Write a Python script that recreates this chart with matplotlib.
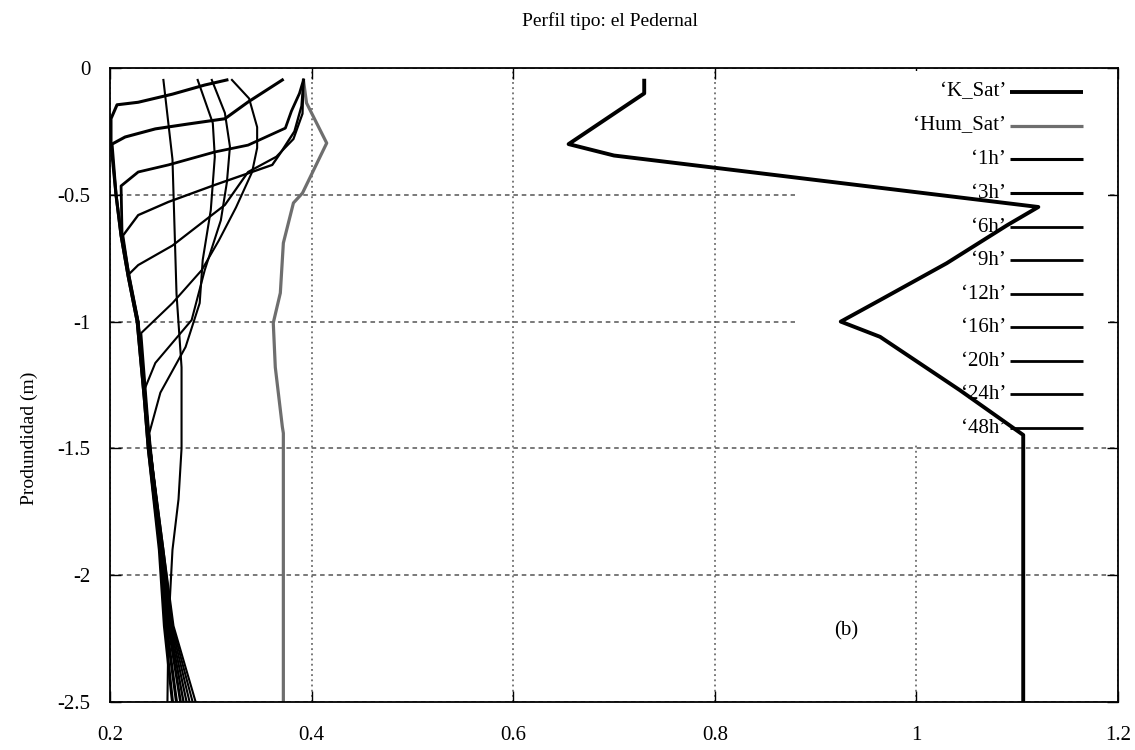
import matplotlib.pyplot as plt
from matplotlib.patches import Rectangle

plt.rcParams['font.family'] = ['Liberation Serif', 'DejaVu Serif']

# perfil de conductividad saturada y humedad de saturacion
ksat_depth = [-0.05, -0.10, -0.30, -0.345, -0.548, -0.62, -0.77, -0.915, -1.0, -1.06, -1.27, -1.447, -2.5]
ksat_value = [0.73, 0.73, 0.655, 0.70, 1.121, 1.09, 1.03, 0.964, 0.925, 0.964, 1.043, 1.106, 1.106]

hsat_depth = [-0.05, -0.138, -0.296, -0.493, -0.532, -0.69, -0.887, -1.005, -1.18, -1.415, -1.44, -2.5]
hsat_value = [0.392, 0.395, 0.415, 0.391, 0.382, 0.372, 0.369, 0.362, 0.364, 0.371, 0.372, 0.372]

# perfiles de humedad a distintos tiempos
d_1h = [-0.047, -0.067, -0.103, -0.135, -0.145, -0.2, -0.3, -0.5, -0.66, -0.82, -1.0, -1.3, -1.5, -1.9, -2.2, -2.5]
m_1h = [0.316, 0.294, 0.262, 0.228, 0.207, 0.201, 0.201, 0.206, 0.211, 0.218, 0.227, 0.234, 0.238, 0.249, 0.254, 0.262]

d_3h = [-0.047, -0.134, -0.20, -0.221, -0.24, -0.272, -0.30, -0.5, -0.66, -0.82, -1.0, -1.3, -1.5, -1.9, -2.2, -2.5]
m_3h = [0.371, 0.337, 0.314, 0.277, 0.245, 0.215, 0.202, 0.206, 0.211, 0.218, 0.227, 0.234, 0.238, 0.250, 0.256, 0.266]

d_6h = [-0.047, -0.10, -0.17, -0.237, -0.304, -0.331, -0.382, -0.41, -0.465, -0.66, -0.82, -1.0, -1.3, -1.5, -1.9, -2.2, -2.5]
m_6h = [0.392, 0.388, 0.380, 0.374, 0.337, 0.304, 0.258, 0.228, 0.211, 0.212, 0.219, 0.228, 0.235, 0.239, 0.251, 0.258, 0.270]

d_9h = [-0.047, -0.15, -0.25, -0.33, -0.382, -0.461, -0.528, -0.58, -0.66, -0.82, -1.0, -1.3, -1.5, -1.9, -2.2, -2.5]
m_9h = [0.392, 0.390, 0.383, 0.370, 0.361, 0.304, 0.258, 0.228, 0.213, 0.219, 0.228, 0.235, 0.239, 0.251, 0.259, 0.273]

d_12h = [-0.047, -0.18, -0.28, -0.35, -0.41, -0.54, -0.70, -0.777, -0.816, -1.0, -1.3, -1.5, -1.9, -2.2, -2.5]
m_12h = [0.392, 0.391, 0.382, 0.365, 0.337, 0.314, 0.262, 0.228, 0.218, 0.228, 0.235, 0.240, 0.252, 0.260, 0.276]

d_16h = [-0.047, -0.12, -0.233, -0.315, -0.41, -0.55, -0.68, -0.797, -0.927, -1.045, -1.3, -1.5, -1.9, -2.2, -2.5]
m_16h = [0.321, 0.338, 0.346, 0.346, 0.341, 0.325, 0.308, 0.291, 0.262, 0.231, 0.236, 0.240, 0.252, 0.261, 0.279]

d_20h = [-0.047, -0.177, -0.31, -0.45, -0.60, -0.797, -0.994, -1.163, -1.27, -1.5, -1.9, -2.2, -2.5]
m_20h = [0.301, 0.314, 0.319, 0.316, 0.310, 0.294, 0.281, 0.245, 0.234, 0.240, 0.253, 0.262, 0.282]

d_24h = [-0.047, -0.217, -0.35, -0.56, -0.757, -0.927, -1.10, -1.28, -1.44, -1.6, -1.9, -2.2, -2.5]
m_24h = [0.287, 0.302, 0.304, 0.300, 0.292, 0.289, 0.275, 0.250, 0.239, 0.243, 0.253, 0.263, 0.285]

d_48h = [-0.047, -0.36, -0.89, -1.18, -1.5, -1.7, -1.9, -2.2, -2.5]
m_48h = [0.253, 0.262, 0.266, 0.271, 0.271, 0.268, 0.262, 0.258, 0.257]

labels = ["\u2018K_Sat\u2019", "\u2018Hum_Sat\u2019", "\u20181h\u2019", "\u20183h\u2019", "\u20186h\u2019",
          "\u20189h\u2019", "\u201812h\u2019", "\u201816h\u2019", "\u201820h\u2019", "\u201824h\u2019",
          "\u201848h\u2019"]

series = [(ksat_value, ksat_depth), (hsat_value, hsat_depth),
          (m_1h, d_1h), (m_3h, d_3h), (m_6h, d_6h), (m_9h, d_9h), (m_12h, d_12h),
          (m_16h, d_16h), (m_20h, d_20h), (m_24h, d_24h), (m_48h, d_48h)]
colors = ['black', '#6e6e6e'] + ['black'] * 9
widths = [2.8, 2.3, 2.2, 2.2, 2.0, 1.7, 1.6, 1.5, 1.5, 1.5, 1.5]

fig = plt.figure(figsize=(11.35, 7.5), dpi=100)
ax = fig.add_axes([0.0969, 0.064, 0.8881, 0.8453])

for (x, y), c, lw in zip(series, colors, widths):
    ax.plot(x, y, color=c, linewidth=lw, solid_joinstyle='round', zorder=2)

ax.set_xlim(0.2, 1.2)
ax.set_ylim(-2.5, 0)
xt = [0.2, 0.4, 0.6, 0.8, 1.0, 1.2]
yt = [-2.5, -2, -1.5, -1, -0.5, 0]
ax.set_xticks(xt, ['0.2', '0.4', '0.6', '0.8', '1', '1.2'])
ax.set_yticks(yt, ['-2.5', '-2', '-1.5', '-1', '-0.5', '0'])
ax.tick_params(direction='in', length=8, width=1, top=True, right=True, labelsize=15)
ax.tick_params(axis='x', pad=17)
ax.tick_params(axis='y', pad=14)
for s in ax.spines.values():
    s.set_linewidth(1.3)

ax.set_axisbelow(True)
ax.xaxis.grid(True, color='#555555', linestyle=(0, (1.2, 2.2)), linewidth=1.1)
ax.yaxis.grid(True, color='#555555', linestyle=(0, (3, 2.5)), linewidth=1.1)

# caja de la leyenda (tapa la rejilla)
ax.add_patch(Rectangle((0.88, -1.48), 0.31, 1.47, facecolor='white', edgecolor='none', zorder=1.5))

row_y = [92, 126, 159, 193, 227, 260, 294, 327, 361, 394, 428]
for lab, py, c, lw in zip(labels, row_y, colors, widths):
    fy = (702 - py) / 634
    ax.text(0.889, fy, lab, transform=ax.transAxes, ha='right', va='center', fontsize=15, zorder=1.8)
    ax.plot([0.893, 0.965], [fy, fy], transform=ax.transAxes, color=c,
            linewidth=max(lw, 2.0), solid_capstyle='butt', zorder=3)

ax.text(0.93, -2.22, '(b)', fontsize=15, ha='center', va='center')

fig.text(0.537, 0.972, 'Perfil tipo: el Pedernal', ha='center', va='center', fontsize=14)
fig.text(0.026, 0.416, 'Produndidad (m)', rotation=90, ha='center', va='center', fontsize=14)

fig.savefig('out.png', dpi=100)
